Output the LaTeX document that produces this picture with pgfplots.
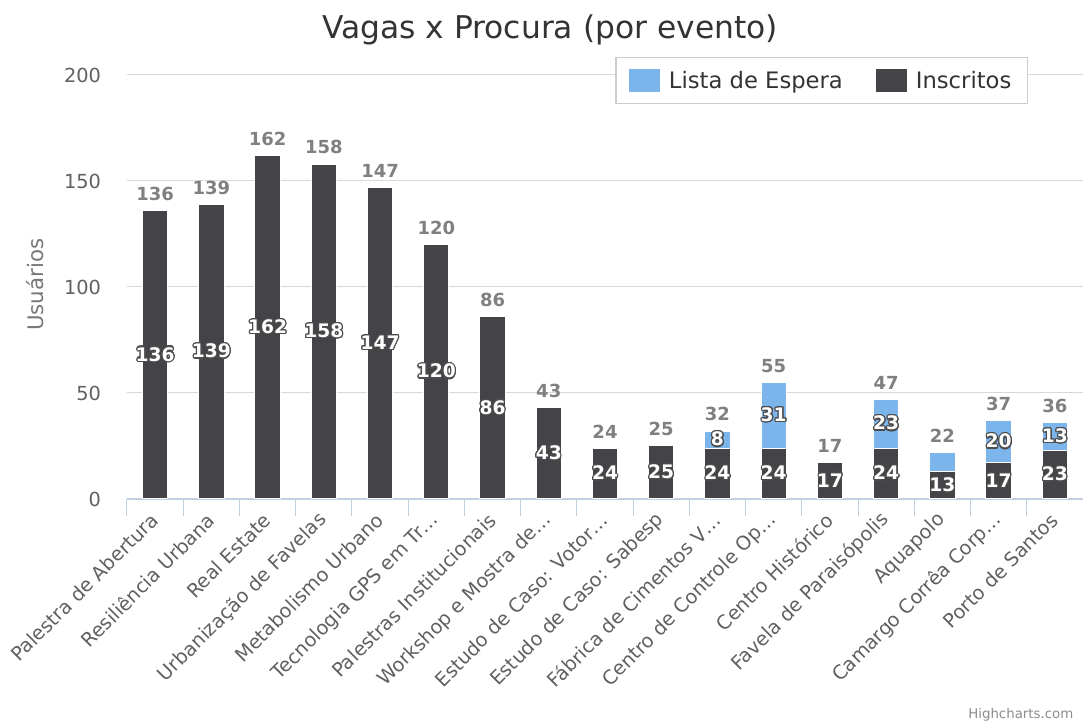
\documentclass[border=0pt]{standalone}
\usepackage{fontspec}
\setmainfont{DejaVu Sans}
\usepackage{pgfplots}
\pgfplotsset{compat=1.18}
\usepackage{pgfplotstable}
\usepackage{contour}
\contourlength{0.9pt}

\definecolor{inscol}{HTML}{434348}
\definecolor{espcol}{HTML}{7CB5EC}
\definecolor{gridcol}{HTML}{D8D8D8}
\definecolor{axiscol}{HTML}{C0D0E0}
\definecolor{ticktext}{HTML}{606060}
\definecolor{titletext}{HTML}{333333}
\definecolor{stacktext}{HTML}{808080}
\definecolor{legcol}{HTML}{CCCCCC}

% x = event index, ins = inscritos, esp = lista de espera, tot = total
\pgfplotstableread{
x ins esp tot
0 136 0 136
1 139 0 139
2 162 0 162
3 158 0 158
4 147 0 147
5 120 0 120
6 86 0 86
7 43 0 43
8 24 0 24
9 25 0 25
10 24 8 32
11 24 31 55
12 17 0 17
13 24 23 47
14 13 9 22
15 17 20 37
16 23 13 36
}\data

% waiting-list segments that carry a label
\pgfplotstableread{
x ins esp
10 24 8
11 24 31
13 24 23
15 17 20
16 23 13
}\espdata

\begin{document}
\begin{tikzpicture}
\useasboundingbox (0pt,0pt) rectangle (812.25pt,545.25pt);

\begin{axis}[
at={(95.25pt,171pt)}, anchor=south west,
scale only axis,
width=717pt, height=318pt,
xmin=-0.5, xmax=16.5,
ymin=0, ymax=200,
axis line style={draw=none},
tick align=outside, tick pos=left,
major tick length=13pt,
xtick={-0.5,0.5,...,16.5},
x tick label as interval,
xticklabels={Palestra de Abertura,Resiliência Urbana,Real Estate,Urbanização de Favelas,Metabolismo Urbano,Tecnologia GPS em Tr…,Palestras Institucionais,Workshop e Mostra de…,Estudo de Caso: Votor…,Estudo de Caso: Sabesp,Fábrica de Cimentos V…,Centro de Controle Op…,Centro Histórico,Favela de Paraisópolis,Aquapolo,Camargo Corrêa Corp…,Porto de Santos},
xtick style={draw=axiscol, line width=0.75pt},
xticklabel style={rotate=45, anchor=east, xshift=3pt, font=\fontsize{14.5}{17}\selectfont, text=ticktext},
ytick={50,100,150,200},
ytick style={draw=none},
extra y ticks={0}, extra y tick labels={0},
extra y tick style={major grid style={draw=axiscol, line width=1pt}, tick style={draw=none}},
ymajorgrids,
major grid style={draw=gridcol, line width=0.75pt},
yticklabel style={font=\fontsize{14.5}{17}\selectfont, text=ticktext, xshift=-3pt},
/pgf/number format/assume math mode=true,
ylabel={Usuários},
ylabel style={at={(axis description cs:-0.096,0.505)}, anchor=center, font=\fontsize{16}{19}\selectfont, text=ticktext!85},
legend style={at={(0.9425,1.0425)}, anchor=north east, draw=legcol, line width=1pt, fill=white,
  font=\fontsize{17}{20}\selectfont, text=titletext, inner xsep=10pt, inner ysep=8pt,
  /tikz/every odd column/.append style={column sep=5pt},
  /tikz/every even column/.append style={column sep=23pt}},
legend columns=2,
legend cell align=left,
]
\addlegendimage{legend image code/.code={\fill[espcol] (3pt,-8.25pt) rectangle (24.75pt,8.25pt);}}
\addlegendentry{Lista de Espera}
\addlegendimage{legend image code/.code={\fill[inscol] (3pt,-8.25pt) rectangle (24.75pt,8.25pt);}}
\addlegendentry{Inscritos}

\addplot[ybar, bar width=19pt, bar shift=0pt, fill=espcol, draw=white, line width=0.75pt, forget plot]
  table[x=x, y=tot]{\data};
\addplot[ybar, bar width=19pt, bar shift=0pt, fill=inscol, draw=white, line width=0.75pt, forget plot]
  table[x=x, y=ins]{\data};

% totals above the bars
\addplot[draw=none, mark=none, forget plot, point meta=explicit,
  nodes near coords,
  every node near coord/.style={anchor=south, yshift=4pt, text=stacktext, font=\fontsize{13.5}{16}\selectfont\bfseries}]
  table[x=x, y=tot, meta=tot]{\data};
% inscritos inside the bars
\addplot[draw=none, mark=none, forget plot, point meta=explicit,
  nodes near coords={\contour{black!70}{\pgfmathprintnumber{\pgfplotspointmeta}}},
  every node near coord/.style={anchor=center, text=white, font=\fontsize{14}{16}\selectfont\bfseries}]
  table[x=x, y expr=0.5*\thisrow{ins}, meta=ins]{\data};
% lista de espera inside the bars
\addplot[draw=none, mark=none, forget plot, point meta=explicit,
  nodes near coords={\contour{black!70}{\pgfmathprintnumber{\pgfplotspointmeta}}},
  every node near coord/.style={anchor=center, text=white, font=\fontsize{14}{16}\selectfont\bfseries}]
  table[x=x, y expr=\thisrow{ins}+0.5*\thisrow{esp}, meta=esp]{\espdata};
\end{axis}

\node[text=titletext, font=\fontsize{23.5}{28}\selectfont] at (412.5pt,523pt) {Vagas x Procura (por evento)};
\node[anchor=east, text=black!45, font=\fontsize{10}{12}\selectfont] at (808.5pt,9pt) {Highcharts.com};
\end{tikzpicture}
\end{document}
